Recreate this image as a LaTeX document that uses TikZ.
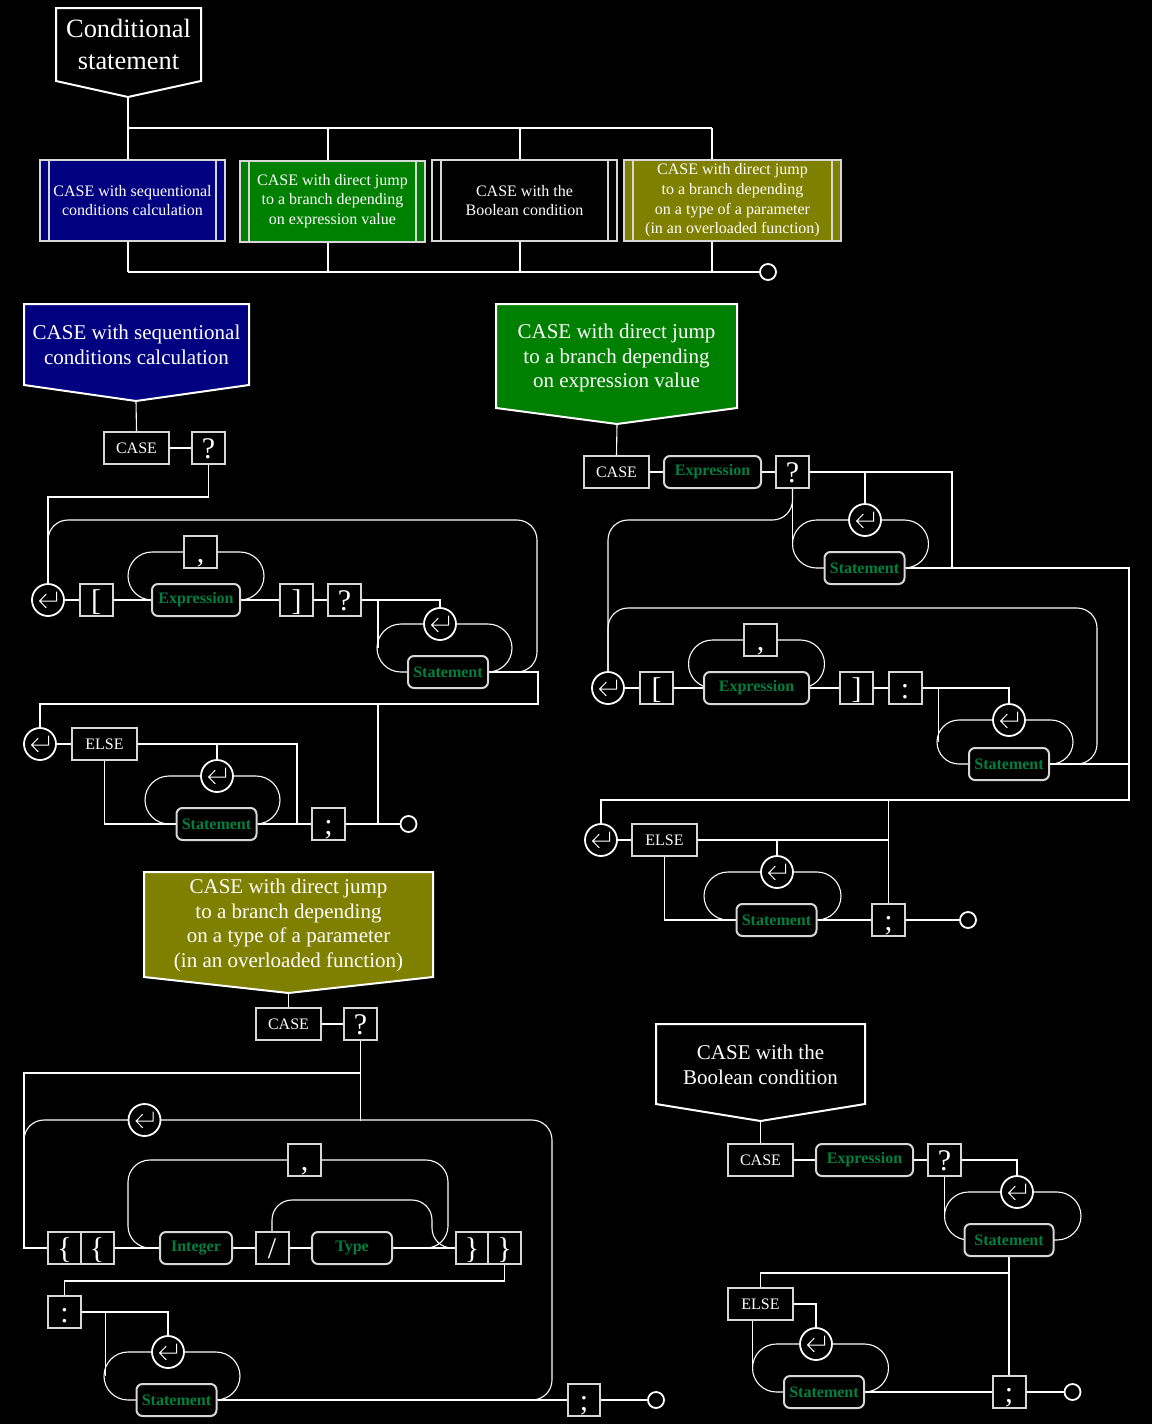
\documentclass[tikz,border=0pt]{standalone}
\usepackage{fontspec}
\setmainfont{Liberation Serif}
\usepackage{tikz}

\pgfdeclarelayer{bg}
\pgfdeclarelayer{wires}
\pgfsetlayers{bg,wires,main}

\definecolor{navyfill}{RGB}{0,0,128}
\definecolor{greenfill}{RGB}{0,128,0}
\definecolor{olivefill}{RGB}{128,128,0}
\definecolor{refgreen}{RGB}{0,128,64}
\definecolor{boxgray}{RGB}{215,215,215}

\newcommand{\cstitle}{\fontsize{13.2}{16}\selectfont}
\newcommand{\cshead}{\fontsize{10.5}{12.4}\selectfont}
\newcommand{\csvar}{\fontsize{8}{9.8}\selectfont}
\newcommand{\cskw}{\fontsize{8}{9.6}\selectfont}
\newcommand{\csref}{\bfseries\fontsize{8}{9.6}\selectfont}
\newcommand{\cssym}{\fontsize{15}{16}\selectfont}

\tikzset{
  wire/.style={white, line width=0.55pt},
  loopline/.style={wire, rounded corners=12pt},
  bigloop/.style={wire, rounded corners=10pt},
  kw/.style={draw=boxgray, line width=1pt, fill=black, text=white, font=\cskw,
    minimum height=16pt, inner sep=0pt},
  sym/.style={kw, font=\cssym, minimum width=16.5pt, text height=11pt, text depth=1pt},
  ref/.style={kw, rounded corners=3pt, text=refgreen, font=\csref, minimum width=40pt},
  loopmark/.style={circle, draw=white, line width=0.9pt, fill=black, minimum size=16pt, inner sep=0pt,
    path picture={\draw[white, line width=0.5pt, shift={(path picture bounding box.center)}]
      (4.3pt,4.2pt) -- (4.3pt,-0.5pt) -- (-4.2pt,-0.5pt)
      (-0.9pt,2.9pt) -- (-4.2pt,-0.5pt) -- (-0.9pt,-3.9pt);}},
  endmark/.style={circle, draw=white, line width=0.9pt, fill=black, minimum size=8pt, inner sep=0pt},
  variant/.style={draw=boxgray, line width=1pt, text=white, font=\csvar, align=center, inner sep=0pt,
    minimum height=40.5pt, minimum width=92.5pt,
    path picture={\draw[boxgray, line width=1pt]
      ([xshift=4.5pt]path picture bounding box.north west) -- ([xshift=4.5pt]path picture bounding box.south west)
      ([xshift=-4.5pt]path picture bounding box.north east) -- ([xshift=-4.5pt]path picture bounding box.south east);}},
  header/.style={draw=white, line width=1pt},
  headtext/.style={text=white, font=\cshead, align=center, inner sep=0pt},
}

\begin{document}
\begin{tikzpicture}[x=0.5pt, y=-0.5pt]
\useasboundingbox (0,0) rectangle (1152,1424);
\begin{pgfonlayer}{bg}
\fill[black] (0,0) rectangle (1152,1424);
\end{pgfonlayer}

% overview
\draw[header, fill=black] (56,8) -- (201,8) -- (201,81) -- (128,97) -- (56,81) -- cycle;
\node[headtext, font=\cstitle] (title) at (128.5,44.5) {Conditional\\statement};
\coordinate (ttip) at (128,97);

\node[variant, fill=navyfill] (v1) at (132.5,200.5) {CASE with sequentional\\conditions calculation};
\node[variant, fill=greenfill] (v2) at (332.5,201) {CASE with direct jump\\to a branch depending\\on expression value};
\node[variant, fill=black] (v3) at (524.5,200.5) {CASE with the\\Boolean condition};
\node[variant, fill=olivefill, minimum width=108.5pt] (v4) at (732.5,200.5) {CASE with direct jump\\to a branch depending\\on a type of a parameter\\(in an overloaded function)};
\node[endmark] (tend) at (768,272) {};

\coordinate (j1) at (128,128);
\coordinate (j2) at (328,128);
\coordinate (j3) at (520,128);
\coordinate (j4) at (712,128);
\coordinate (k1) at (128,272);
\coordinate (k2) at (328,272);
\coordinate (k3) at (520,272);
\coordinate (k4) at (712,272);

% sequential conditions
\draw[header, fill=navyfill] (24,304) -- (249,304) -- (249,385) -- (136,401) -- (24,385) -- cycle;
\node[headtext] (s1head) at (136.5,345) {CASE with sequentional\\conditions calculation};
\coordinate (s1tip) at (136,401);
\node[kw, minimum width=32.5pt] (s1case) at (136.5,448) {CASE};
\node[sym] (s1q) at (208.5,448) {?};
\node[loopmark] (s1loopA) at (48,600) {};
\node[sym] (s1lb) at (96,600) {[};
\node[ref, minimum width=44pt] (s1expr) at (196,600) {Expression};
\node[sym] (s1comma) at (200.5,552) {,};
\node[sym] (s1rb) at (296.5,600) {]};
\node[sym] (s1q2) at (344.5,600) {?};
\node[loopmark] (s1loopB) at (440,624) {};
\node[ref] (s1stmt) at (448,672) {Statement};
\node[loopmark] (s1loopC) at (40,744) {};
\node[kw, minimum width=32.5pt] (s1else) at (104.5,744) {ELSE};
\node[loopmark] (s1loopD) at (217,776) {};
\node[ref] (s1stmt2) at (216.5,824) {Statement};
\node[sym] (s1semi) at (328.5,824) {;};
\node[endmark] (s1end) at (408.5,824) {};

% direct jump by value
\draw[header, fill=greenfill] (496,304) -- (737,304) -- (737,408) -- (617,424) -- (496,408) -- cycle;
\node[headtext] (s2head) at (616.5,358) {CASE with direct jump\\to a branch depending\\on expression value};
\coordinate (s2tip) at (617,424);
\node[kw, minimum width=32.5pt] (s2case) at (616.5,472) {CASE};
\node[ref, minimum width=48.5pt] (s2expr) at (712.5,472) {Expression};
\node[sym] (s2q) at (792.5,472) {?};
\node[loopmark] (s2loopA) at (865,520) {};
\node[ref] (s2stmt) at (864.5,568) {Statement};
\node[loopmark] (s2loopB) at (608,688) {};
\node[sym] (s2lb) at (656.5,688) {[};
\node[ref, minimum width=52.5pt] (s2expr2) at (756.5,688) {Expression};
\node[sym] (s2comma) at (760.5,640) {,};
\node[sym] (s2rb) at (856.5,688) {]};
\node[sym] (s2colon) at (905,688) {:};
\node[loopmark] (s2loopC) at (1009,720) {};
\node[ref] (s2stmt2) at (1009,764) {Statement};
\node[loopmark] (s2loopD) at (601,840) {};
\node[kw, minimum width=32.5pt] (s2else) at (664.5,840) {ELSE};
\node[loopmark] (s2loopE) at (777,872) {};
\node[ref] (s2stmt3) at (776.5,920) {Statement};
\node[sym] (s2semi) at (888.5,920) {;};
\node[endmark] (s2end) at (968,920) {};

% direct jump by parameter type
\draw[header, fill=olivefill] (144,872) -- (433,872) -- (433,977) -- (288.5,993) -- (144,977) -- cycle;
\node[headtext] (s3head) at (288.5,925.5) {CASE with direct jump\\to a branch depending\\on a type of a parameter\\(in an overloaded function)};
\coordinate (s3tip) at (288.5,993);
\node[kw, minimum width=32.5pt] (s3case) at (288.5,1024) {CASE};
\node[sym] (s3q) at (360.5,1024) {?};
\node[loopmark] (s3loop) at (144.5,1120) {};
\node[sym] (s3lb1) at (64.5,1248) {\{};
\node[sym] (s3lb2) at (97,1248) {\{};
\node[ref, minimum width=36pt] (s3int) at (196,1248) {Integer};
\node[sym] (s3slash) at (272,1248) {/};
\node[ref] (s3type) at (352,1248) {Type};
\node[sym] (s3comma) at (304.5,1160) {,};
\node[sym, minimum width=16pt] (s3rb1) at (472,1248) {\}};
\node[sym] (s3rb2) at (504.5,1248) {\}};
\node[sym] (s3colon) at (64.5,1312) {:};
\node[loopmark] (s3loop2) at (168,1352) {};
\node[ref] (s3stmt) at (176.5,1400) {Statement};
\node[sym, minimum width=16pt] (s3semi) at (584,1400) {;};
\node[endmark] (s3end) at (656,1400) {};

% boolean condition
\draw[header, fill=black] (656,1024) -- (865,1024) -- (865,1104) -- (760.5,1121) -- (656,1104) -- cycle;
\node[headtext] (s4head) at (760.5,1065) {CASE with the\\Boolean condition};
\coordinate (s4tip) at (760.5,1121);
\node[kw, minimum width=32.5pt] (s4case) at (760.5,1160) {CASE};
\node[ref, minimum width=48.5pt] (s4expr) at (864.5,1160) {Expression};
\node[sym] (s4q) at (944.5,1160) {?};
\node[loopmark] (s4loopA) at (1017,1192) {};
\node[ref, minimum width=44.5pt] (s4stmt) at (1009,1240) {Statement};
\node[kw, minimum width=32.5pt] (s4else) at (760.5,1304) {ELSE};
\node[loopmark] (s4loopB) at (816,1344) {};
\node[ref] (s4stmt2) at (824,1392) {Statement};
\node[sym] (s4semi) at (1009,1392) {;};
\node[endmark] (s4end) at (1072.5,1392) {};

\begin{pgfonlayer}{wires}
% overview
\draw[wire] (ttip) -- (j1) -- (j4);
\foreach \i in {1,...,4} {
  \draw[wire] (j\i) -- (j\i |- v\i.north);
  \draw[wire] (k\i |- v\i.south) -- (k\i);
}
\draw[wire] (k1) -- (tend.west);

% sequential conditions
\draw[wire] (s1tip) -- (s1case.north);
\draw[wire] (s1case) -- (s1q);
\draw[wire] (s1q.south) -- ++(0,32) -| (s1loopA.north);
\draw[bigloop] (s1stmt.east) -| (537,520) -| (s1loopA.north);
\draw[wire] (s1loopA) -- (s1lb) -- (s1expr) -- (s1rb) -- (s1q2);
\draw[loopline] (128,552) rectangle (264,600);
\draw[wire] (s1q2.east) -| (s1loopB.north);
\draw[wire] (s1q2.east) ++(16,0) -- ++(0,48);
\draw[loopline] (377,624) rectangle (512,672);
\draw[wire] (s1stmt.east) -- ++(49,0) -- ++(0,32) -| (s1loopC.north);
\draw[wire] ([xshift=16pt]s1semi.east) -- ++(0,-120);
\draw[wire] (s1loopC) -- (s1else);
\draw[wire] (s1else.east) -- ++(159,0) -- ++(0,80);
\draw[wire] (s1loopD.north) -- (s1loopD.north |- s1else.east);
\draw[wire] (s1else.south) |- (s1stmt2.west);
\draw[loopline] (145,776) rectangle (280,824);
\draw[wire] (s1stmt2) -- (s1semi) -- (s1end);

% direct jump by value
\draw[wire] (s2tip) -- (s2case.north);
\draw[wire] (s2case) -- (s2expr) -- (s2q);
\draw[wire] (s2q.east) -| (952,568);
\draw[wire] (s2loopA.north) -- (s2loopA.north |- s2q.east);
\draw[wire] (s2q.south) -- ++(0,56);
\draw[loopline] (792.5,520) rectangle (928.5,568);
\draw[wire] (s2stmt.east) -| (1129,800) -| (s2loopD.north);
\draw[bigloop] (s2q.south) |- (s2loopB.north |- s2loopA.west) -- (s2loopB.north);
\draw[wire] (s2loopB) -- (s2lb) -- (s2expr2) -- (s2rb) -- (s2colon);
\draw[loopline] (688.5,640) rectangle (824.5,688);
\draw[wire] (s2colon.east) -| (s2loopC.north);
\draw[wire] (s2colon.east) ++(16,0) -- ++(0,54);
\draw[wire, rounded corners=11pt] (937,720) rectangle (1073,764);
\draw[bigloop] (s2stmt2.east) -| (1097,608) -| (s2loopB.north);
\draw[wire] (s2stmt2.east) -- ++(80,0);
\draw[wire] (s2loopD) -- (s2else);
\draw[wire] (s2else.east) -| (s2semi.north);
\draw[wire] (s2semi.north) -- ++(0,-104);
\draw[wire] (s2loopE.north) -- (s2loopE.north |- s2else.east);
\draw[wire] (s2else.south) |- (s2stmt3.west);
\draw[loopline] (704,872) rectangle (841,920);
\draw[wire] (s2stmt3) -- (s2semi) -- (s2end);

% direct jump by parameter type
\draw[wire] (s3tip) -- (s3case.north);
\draw[wire] (s3case) -- (s3q);
\draw[wire] (s3q.south) -- ++(0,32) -| (24,1248) -- (s3lb1.west);
\draw[wire] (s3q.south) -- ++(0,80);
\draw[bigloop] (24,1248) |- (552,1120) |- (s3stmt.east);
\draw[wire] (s3lb2) -- (s3int) -- (s3slash) -- (s3type) -- (s3rb1);
\draw[wire, rounded corners=11pt] (128,1160) rectangle (448,1248);
\draw[bigloop] (s3slash.north) |- (432,1200) |- (s3rb1.west);
\draw[wire] (s3rb2.south) -- ++(0,16) -| (s3colon.north);
\draw[wire] (s3colon.east) -| (s3loop2.north);
\draw[wire] (s3colon.east) ++(23.5,0) -- ++(0,64);
\draw[loopline] (104,1352) rectangle (240,1400);
\draw[wire] (s3stmt) -- (s3semi) -- (s3end);

% boolean condition
\draw[wire] (s4tip) -- (s4case.north);
\draw[wire] (s4case) -- (s4expr) -- (s4q);
\draw[wire] (s4q.east) -| (s4loopA.north);
\draw[wire] (s4q.south) -- ++(0,40);
\draw[loopline] (944.5,1192) rectangle (1081,1240);
\draw[wire] (s4stmt.south) -- (s4semi.north);
\draw[wire] (s4stmt.south) -- ++(0,16) -| (s4else.north);
\draw[wire] (s4else.east) -| (s4loopB.north);
\draw[wire] ([xshift=-4pt]s4else.south) -- ++(0,48);
\draw[loopline] (752.5,1344) rectangle (888.5,1392);
\draw[wire] (s4stmt2) -- (s4semi) -- (s4end);
\end{pgfonlayer}
\end{tikzpicture}
\end{document}
